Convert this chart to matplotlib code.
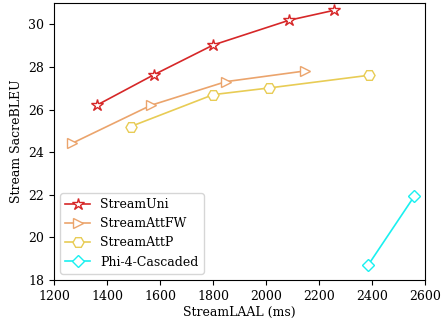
import matplotlib
matplotlib.use("Agg")
import matplotlib.pyplot as plt

plt.rcParams['font.family'] = 'DejaVu Serif'
plt.rcParams['font.size'] = 9

uni_x = [1361, 1578, 1801, 2087, 2258]
uni_y = [26.2, 27.64, 29.03, 30.19, 30.66]
fw_x = [1269, 1566, 1849, 2147]
fw_y = [24.42, 26.2, 27.31, 27.81]
attp_x = [1489, 1801, 2010, 2390]
attp_y = [25.2, 26.7, 27.01, 27.61]
phi_x = [2385, 2560]
phi_y = [18.69, 21.94]

fig = plt.figure(figsize=(4.43, 3.2), dpi=100)
ax = fig.add_axes([54/443, 40/320, 371/443, 277/320])

ax.plot(uni_x, uni_y, color='#d62728', lw=1.2, marker='*', markersize=9,
        markerfacecolor='white', label='StreamUni')
ax.plot(fw_x, fw_y, color='#eba46c', lw=1.2, marker='>', markersize=7,
        markerfacecolor='white', label='StreamAttFW')
ax.plot(attp_x, attp_y, color='#e8cc55', lw=1.2, marker='H', markersize=8,
        markerfacecolor='white', label='StreamAttP')
ax.plot(phi_x, phi_y, color='#19f0f0', lw=1.2, marker='D', markersize=6.5,
        markerfacecolor='white', label='Phi-4-Cascaded')

ax.set_xlim(1200, 2600)
ax.set_ylim(18, 31)
ax.set_yticks([18, 20, 22, 24, 26, 28, 30])
ax.set_xlabel('StreamLAAL (ms)', labelpad=2)
ax.set_ylabel('Stream SacreBLEU')
ax.legend(loc='lower left')

fig.savefig('out.png')
